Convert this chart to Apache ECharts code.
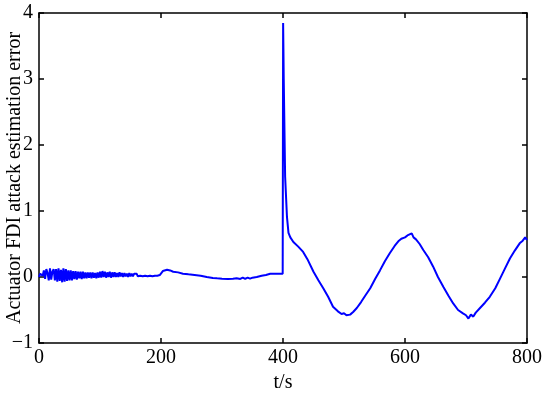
<!DOCTYPE html>
<html><head><meta charset="utf-8">
<script src="https://cdn.jsdelivr.net/npm/echarts@6/dist/echarts.min.js"></script>
<style>html,body{margin:0;padding:0;background:#fff}#c{width:550px;height:394px}</style>
</head><body><div id="c"></div>
<script>
var xTicks = [0, 200, 400, 600, 800];
var yTicks = [-1, 0, 1, 2, 3, 4];
var times = [
0,2,4,6,8,10,12,14,16,18,20,22,24,26,28,30,32,34,36,38,40,42,44,46,48,50,52,54,56,58,
60,62,64,66,68,70,72,74,76,78,80,82,84,86,88,90,92,94,96,98,100,102,104,106,108,110,112,114,116,118,
120,122,124,126,128,130,132,134,136,138,140,142,144,146,148,150,152,154,156,158,160,162,164,166,168,170,172,174,176,178,
180,182,184,186,188,190,192,194,196,198,200,
203,206,210,215,220,228,236,245,255,265,275,285,292,300,310,318,324,330,334,338,342,346,350,357,365,372,379,390,399.5,
400.2,400.7,401.2,401.5,403.5,404,406.5,407,409,412,417,425,433,440,450,458,466,474,482,490,496,500,504,507,510,515,521,528,535,543,
551,559,567,575,583,590,594,597,600,604,607,611,614,618,624,630,638,646,654,663,671,679,687,695,700,704,708,712,716,723,
731,739,748,756,764,772,780,788,793,797,800
];
var errors = [
0.0,0.05,0.08,0.02,0.1,-0.03,0.12,0.06,-0.05,0.13,-0.04,0.08,0.12,-0.05,0.12,-0.07,0.13,-0.06,0.11,-0.08,0.13,-0.07,0.12,-0.06,0.1,-0.05,0.1,-0.05,0.09,-0.03,
0.09,-0.04,0.08,-0.02,0.08,-0.03,0.08,-0.02,0.07,-0.02,0.07,-0.01,0.07,-0.02,0.07,-0.01,0.06,-0.02,0.07,-0.01,0.08,-0.01,0.09,0.0,0.08,-0.01,0.07,0.0,0.08,-0.01,
0.07,0.0,0.07,0.0,0.06,0.0,0.07,0.01,0.06,0.0,0.06,0.01,0.05,0.0,0.06,0.01,0.05,0.01,0.05,0.02,0.05,0.01,0.04,0.02,0.05,0.01,0.04,0.02,0.05,0.01,
0.04,0.02,0.05,0.01,0.04,0.02,0.04,0.02,0.05,0.03,0.05,
0.09,0.12,0.11,0.1,0.08,0.07,0.05,0.04,0.03,0.02,0.0,-0.015,-0.02,-0.025,-0.03,-0.028,-0.02,-0.03,-0.01,-0.03,-0.01,-0.025,-0.01,0.0,0.02,0.03,0.05,0.05,0.05,
3.85,3.45,3.0,2.98,1.52,1.5,0.91,0.9,0.67,0.6,0.53,0.46,0.38,0.27,0.08,-0.05,-0.17,-0.3,-0.45,-0.52,-0.56,-0.55,-0.58,-0.55,-0.57,-0.53,-0.47,-0.38,-0.28,-0.17,
-0.03,0.1,0.24,0.36,0.47,0.55,0.58,0.61,0.6,0.63,0.6,0.66,0.6,0.57,0.5,0.41,0.3,0.16,0.0,-0.15,-0.28,-0.4,-0.5,-0.55,-0.58,-0.63,-0.57,-0.6,-0.54,-0.47,
-0.39,-0.3,-0.17,-0.02,0.13,0.28,0.4,0.51,0.55,0.6,0.56
];
var data = times.map(function (t, i) { return [t, errors[i]]; });
var font = 'Liberation Serif';
var chart = echarts.init(document.getElementById('c'));
function axisBase(extra) {
  return Object.assign({
    axisLine: { show: true, onZero: false, lineStyle: { color: '#000', width: 1.5 } },
    axisTick: { show: true, inside: true, length: 5, lineStyle: { color: '#000', width: 1.5 } },
    splitLine: { show: false }
  }, extra);
}
chart.setOption({
  animation: false,
  backgroundColor: '#fff',
  grid: { left: 39, right: 23, top: 13, bottom: 51, containLabel: false, outerBoundsMode: 'none' },
  xAxis: [
    axisBase({ type: 'value', min: 0, max: 800, interval: 200, position: 'bottom',
      name: 't/s', nameLocation: 'middle', nameGap: 30, nameMoveOverlap: false,
      nameTextStyle: { fontFamily: font, fontSize: 20, color: '#000' },
      axisLabel: { fontFamily: font, fontSize: 20, color: '#000', margin: 5,
        formatter: function (v) { return xTicks.indexOf(v) >= 0 ? String(v) : ''; } } }),
    axisBase({ type: 'value', min: 0, max: 800, interval: 200, position: 'top', axisLabel: { show: false } })
  ],
  yAxis: [
    axisBase({ type: 'value', min: -1, max: 4, interval: 1, position: 'left',
      name: 'Actuator FDI attack estimation error', nameLocation: 'middle', nameGap: 14, nameMoveOverlap: false,
      nameTextStyle: { fontFamily: font, fontSize: 20, color: '#000' },
      axisLabel: { fontFamily: font, fontSize: 20, color: '#000', margin: 6,
        formatter: function (v) { return yTicks.indexOf(v) >= 0 ? String(v).replace('-', '\u2212') : ''; } } }),
    axisBase({ type: 'value', min: -1, max: 4, interval: 1, position: 'right', axisLabel: { show: false } })
  ],
  series: [{
    type: 'line', data: data, showSymbol: false, symbol: 'none',
    lineStyle: { color: '#0000ff', width: 2 }, itemStyle: { color: '#0000ff' }
  }]
});
</script></body></html>
